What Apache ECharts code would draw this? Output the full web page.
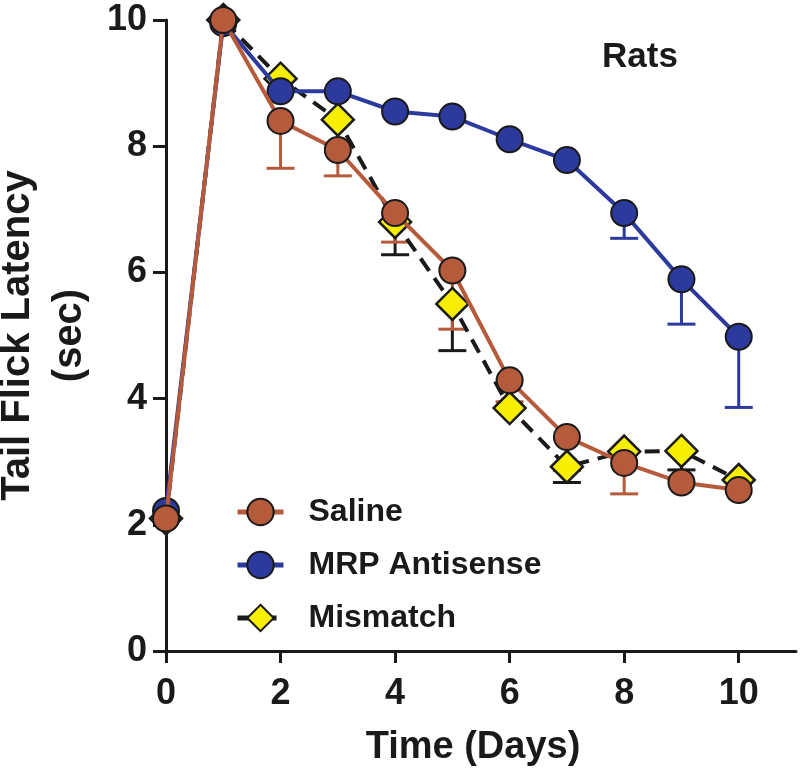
<!DOCTYPE html>
<html>
<head>
<meta charset="utf-8">
<script src="https://cdn.jsdelivr.net/npm/echarts@6/dist/echarts.min.js"></script>
<style>
html,body{margin:0;padding:0;background:#fff;}
#main{width:800px;height:783px;}
</style>
</head>
<body>
<div id="main"></div>
<script>
var days=[0,1,2,3,4,5,6,7,8,9,10];
var saline=[2.1,10.0,8.4,7.94,6.94,6.03,4.29,3.39,2.98,2.67,2.55];
var salineLow=[null,null,7.65,7.53,6.48,5.10,3.95,2.86,2.49,null,null];
var mrp=[2.22,9.95,8.87,8.87,8.55,8.47,8.11,7.78,6.94,5.89,4.98];
var mrpLow=[null,null,null,null,null,null,null,null,6.54,5.18,3.86];
var mismatch=[2.1,10.0,9.07,8.42,6.80,5.50,3.85,2.92,3.16,3.17,2.71];
var mismatchLow=[null,null,null,null,6.28,4.76,null,2.67,null,2.87,null];
var xTicks=[0,2,4,6,8,10];

var font='"Liberation Sans", Arial, sans-serif';
var salineColor='#b65a3c';
var mrpColor='#2b3a9c';

function pairs(v){
  var out=[];
  for(var i=0;i<days.length;i++){ out.push([days[i],v[i]]); }
  return out;
}
function errData(v,low){
  var out=[];
  for(var i=0;i<days.length;i++){
    if(low[i]!=null) out.push([days[i],v[i],low[i]]);
  }
  return out;
}
// draws lower error bar with a cap
function errRender(color){
  return function(params,api){
    var p=api.coord([api.value(0),api.value(1)]);
    var q=api.coord([api.value(0),api.value(2)]);
    var w=14;
    return {type:'group',children:[
      {type:'line',shape:{x1:p[0],y1:p[1],x2:q[0],y2:q[1]},style:{stroke:color,lineWidth:3}},
      {type:'line',shape:{x1:q[0]-w,y1:q[1],x2:q[0]+w,y2:q[1]},style:{stroke:color,lineWidth:3}}
    ]};
  };
}

var myChart=echarts.init(document.getElementById('main'));
option={
  backgroundColor:'#fff',
  animation:false,
  title:{
    text:'Rats',left:602,top:40,padding:0,
    textStyle:{fontFamily:font,fontWeight:'bold',fontSize:35,color:'#1a1a1a'}
  },
  legend:{
    data:['Saline','MRP Antisense','Mismatch'],
    orient:'vertical',left:230,top:491,
    itemWidth:46,itemHeight:33,itemGap:21,
    lineStyle:{width:5},
    textStyle:{fontFamily:font,fontWeight:'bold',fontSize:32,color:'#1a1a1a',padding:[0,0,0,20]}
  },
  grid:{left:166,right:4,top:20,bottom:132,containLabel:false,outerBoundsMode:'none'},
  xAxis:{
    type:'value',min:0,max:11,interval:2,
    name:'Time (Days)',nameLocation:'middle',nameGap:78,
    nameTextStyle:{fontFamily:font,fontWeight:'bold',fontSize:38,color:'#1a1a1a',padding:[0,16,0,0]},
    axisLine:{lineStyle:{color:'#1a1a1a',width:3}},
    axisTick:{show:true,length:12,lineStyle:{width:3,color:'#1a1a1a'},customValues:xTicks},
    axisLabel:{fontFamily:font,fontWeight:'bold',fontSize:36,color:'#1a1a1a',margin:25,customValues:xTicks},
    splitLine:{show:false}
  },
  yAxis:{
    type:'value',min:0,max:10,interval:2,
    name:'Tail Flick Latency\n(sec)',nameLocation:'middle',nameGap:66,nameRotate:90,
    nameTextStyle:{fontFamily:font,fontWeight:'bold',fontSize:40,color:'#1a1a1a',lineHeight:52},
    axisLine:{lineStyle:{color:'#1a1a1a',width:3}},
    axisTick:{show:true,length:13,lineStyle:{width:3,color:'#1a1a1a'}},
    axisLabel:{fontFamily:font,fontWeight:'bold',fontSize:36,color:'#1a1a1a',margin:19},
    splitLine:{show:false}
  },
  series:[
    {type:'custom',name:'mmErr',renderItem:errRender('#1a1a1a'),data:errData(mismatch,mismatchLow),z:1,silent:true},
    {type:'custom',name:'mrpErr',renderItem:errRender(mrpColor),data:errData(mrp,mrpLow),z:1,silent:true},
    {type:'custom',name:'salErr',renderItem:errRender(salineColor),data:errData(saline,salineLow),z:1,silent:true},
    {
      name:'Mismatch',type:'line',data:pairs(mismatch),z:2,
      symbol:'diamond',symbolSize:[32,32],
      lineStyle:{color:'#1a1a1a',width:4,type:[15,9]},
      itemStyle:{color:'#f7ee00',borderColor:'#1a1a1a',borderWidth:2.5}
    },
    {
      name:'MRP Antisense',type:'line',data:pairs(mrp),z:3,
      symbol:'circle',symbolSize:26,
      lineStyle:{color:mrpColor,width:4},
      itemStyle:{color:mrpColor,borderColor:'#1a1a1a',borderWidth:2}
    },
    {
      name:'Saline',type:'line',data:pairs(saline),z:4,
      symbol:'circle',symbolSize:26,
      lineStyle:{color:salineColor,width:4},
      itemStyle:{color:salineColor,borderColor:'#1a1a1a',borderWidth:2}
    }
  ]
};
myChart.setOption(option);
</script>
</body>
</html>
